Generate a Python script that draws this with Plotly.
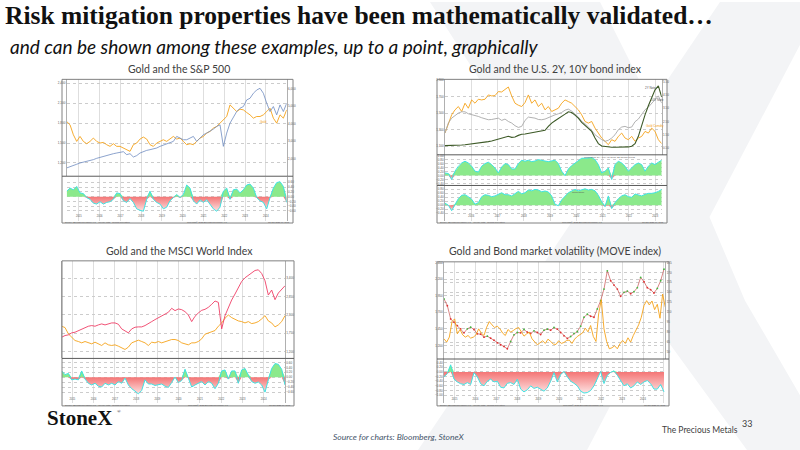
import numpy as np
import pandas as pd
import plotly.graph_objects as go

W, H = 800, 450

# ---------------- chart 1: gold and the S&P 500 ----------------
c1_start, c1_end = "2014-06-01", "2025-01-01"
c1_gold = [1825, 1775, 1625, 1525, 1600, 1525, 1490, 1525, 1575, 1525,
           1500, 1510, 1475, 1450, 1490, 1450, 1450, 1425, 1400, 1375,
           1475, 1500, 1560, 1590, 1560, 1475, 1450, 1500, 1525, 1550,
           1525, 1560, 1600, 1560, 1575, 1525, 1475, 1490, 1475, 1525,
           1575, 1600, 1650, 1675, 1725, 1750, 1800, 1850, 1900, 2075,
           2025, 1975, 2010, 2000, 1960, 1925, 1875, 1900, 1900, 1925,
           1975, 2025, 1875, 1800, 1925, 1875, 2000]
c1_spx = [1475, 1530, 1610, 1685, 1760, 1800, 1855, 1910, 1950, 2025,
          2085, 2140, 2195, 2235, 2290, 2330, 2370, 2405, 2235, 2290,
          2100, 2180, 2330, 2425, 2480, 2520, 2560, 2615, 2710, 2785,
          2860, 2940, 2995, 3280, 3185, 3090, 3090, 3185, 3280, 2995,
          3185, 3375, 3470, 3565, 3700, 3850, 3945, 2710, 3470, 4040,
          4420, 4705, 4895, 4990, 5370, 5465, 5750, 5940, 6035, 5750,
          5180, 4705, 4990, 4515, 5085, 4705, 5180]
c1_corr = [0.23, 0.36, 0.29, 0.43, 0.16, 0.13, -0.04, -0.11, -0.27, -0.31,
           -0.21, -0.31, -0.24, -0.21, -0.11, 0.16, 0.13, -0.17, -0.24, -0.08,
           -0.24, -0.51, -0.57, -0.61, -0.11, 0.23, -0.11, -0.24, -0.31, -0.51,
           -0.44, -0.17, -0.04, 0.09, -0.04, 0.09, 0.49, 0.36, -0.17, -0.31,
           -0.13, -0.24, -0.13, -0.31, -0.51, -0.61, -0.44, 0.23, 0.36, -0.11,
           0.29, 0.32, 0.16, 0.29, 0.49, 0.53, 0.36, -0.04, -0.17, -0.24,
           -0.51, -0.04, 0.36, 0.59, 0.63, 0.43, -0.24]

# ---------------- chart 2: gold and the U.S. 2Y, 10Y ----------------
c2_start, c2_end = "2015-01-01", "2023-04-01"
c2_gold = [1260, 1380, 1480, 1540, 1580, 1520, 1620, 1560, 1660, 1620,
           1668, 1660, 1668, 1720, 1708, 1712, 1760, 1756, 1788, 1816,
           1708, 1620, 1596, 1580, 1628, 1720, 1620, 1660, 1580, 1620,
           1540, 1580, 1520, 1540, 1560, 1620, 1660, 1640, 1620, 1580,
           1540, 1480, 1400, 1380, 1400, 1320, 1260, 1200, 1160, 1120,
           1180, 1160, 1220, 1260, 1200, 1180, 1220, 1160, 1200, 1220,
           1280, 1260, 1320, 1280, 1180, 1132]
c2_us2y = [0.68, 0.68, 0.68, 0.70, 0.73, 0.73, 0.75, 0.78, 0.80, 0.83,
           0.85, 0.88, 0.93, 0.98, 1.03, 1.10, 1.15, 1.23, 1.30, 1.38,
           1.30, 1.33, 1.45, 1.53, 1.55, 1.60, 1.65, 1.70, 1.73, 1.78,
           1.83, 2.13, 2.38, 2.55, 2.70, 2.88, 3.05, 3.23, 3.18, 2.98,
           2.75, 2.43, 2.18, 2.00, 1.75, 1.25, 0.83, 0.65, 0.60, 0.58,
           0.55, 0.55, 0.55, 0.55, 0.58, 0.58, 0.63, 0.83, 1.38, 2.25,
           3.00, 3.68, 4.25, 4.88, 5.18, 4.33]
c2_us10y = [1.63, 2.38, 2.75, 2.93, 3.13, 3.23, 3.23, 3.08, 3.03, 2.95,
            2.88, 2.78, 2.70, 2.63, 2.65, 2.68, 2.75, 2.58, 2.68, 2.50,
            2.38, 2.18, 2.05, 2.13, 2.58, 2.83, 2.80, 2.75, 2.65, 2.63,
            2.68, 2.80, 2.88, 3.00, 3.08, 3.18, 3.35, 3.43, 3.28, 3.08,
            2.83, 2.50, 2.33, 2.08, 1.83, 1.50, 1.28, 1.13, 1.00, 1.08,
            1.25, 1.50, 1.88, 2.08, 2.13, 2.03, 2.08, 2.48, 2.68, 3.00,
            3.38, 3.58, 3.88, 4.18, 4.43, 3.88]
c2_corr_2y = [0.13, 0.10, -0.20, 0.22, 0.47, 0.63, 0.72, 0.63, 0.47, 0.22,
              0.17, 0.47, 0.60, 0.67, 0.55, 0.38, 0.13, 0.43, 0.60, 0.55,
              0.33, 0.33, 0.60, 0.77, 0.72, 0.77, 0.70, 0.73, 0.80, 0.75,
              0.73, 0.70, 0.72, 0.77, 0.60, 0.22, 0.00, 0.33, 0.50, 0.63,
              0.77, 0.87, 0.87, 0.90, 0.90, 0.80, 0.55, 0.13, 0.22, 0.38,
              -0.20, 0.55, 0.72, 0.63, 0.47, 0.22, 0.38, 0.55, 0.63, 0.55,
              0.22, 0.47, 0.63, 0.55, 0.67, 0.77]
c2_corr_10y = [0.10, 0.00, -0.28, 0.05, 0.33, 0.50, 0.53, 0.43, 0.30, 0.05,
               0.13, 0.43, 0.53, 0.50, 0.43, 0.47, 0.53, 0.63, 0.53, 0.53,
               0.47, 0.58, 0.70, 0.58, 0.63, 0.77, 0.73, 0.80, 0.77, 0.68,
               0.72, 0.67, 0.47, 0.05, -0.03, 0.27, 0.47, 0.63, 0.72, 0.80,
               0.73, 0.80, 0.83, 0.77, 0.80, 0.73, 0.50, 0.17, -0.07, 0.47,
               -0.17, 0.13, 0.33, 0.47, 0.53, 0.43, 0.40, 0.57, 0.53, 0.47,
               0.55, 0.60, 0.60, 0.63, 0.70, 0.80]

# ---------------- chart 3: gold and the MSCI World ----------------
c3_start, c3_end = "2014-07-01", "2025-01-01"
c3_msci = [1630, 1680, 1700, 1760, 1780, 1830, 1880, 1920, 1960, 1980,
           1960, 2000, 2030, 2000, 2030, 2060, 2060, 2020, 1880, 1820,
           1760, 1880, 1930, 1940, 1940, 1980, 2030, 2100, 2160, 2210,
           2260, 2310, 2380, 2500, 2430, 2480, 2460, 2400, 2300, 2100,
           2260, 2360, 2440, 2470, 2530, 2620, 2720, 2680, 1880, 2280,
           2530, 2750, 2930, 3130, 3310, 3420, 3500, 3560, 3640, 3660,
           3550, 3330, 2900, 3050, 2760, 2960, 3060, 3180]
c3_gold = [1480, 1460, 1365, 1315, 1265, 1250, 1230, 1250, 1230, 1215,
           1240, 1215, 1190, 1230, 1200, 1190, 1200, 1180, 1150, 1130,
           1165, 1230, 1250, 1270, 1250, 1230, 1190, 1240, 1230, 1250,
           1230, 1250, 1265, 1280, 1280, 1265, 1230, 1210, 1200, 1230,
           1230, 1250, 1290, 1360, 1380, 1390, 1415, 1480, 1530, 1600,
           1650, 1610, 1580, 1560, 1550, 1530, 1550, 1520, 1530, 1550,
           1590, 1640, 1560, 1530, 1470, 1500, 1550, 1640]
c3_corr = [0.26, 0.11, 0.16, -0.10, -0.07, -0.10, 0.26, -0.07, -0.24, -0.31,
           -0.24, -0.36, -0.39, -0.24, -0.31, -0.24, -0.31, -0.17, -0.24, -0.03,
           -0.31, -0.46, -0.56, -0.67, -0.53, -0.10, -0.27, -0.27, -0.33, -0.31,
           -0.27, -0.36, -0.41, -0.21, 0.01, -0.21, -0.13, 0.33, -0.03, -0.39,
           -0.31, -0.24, -0.17, -0.31, -0.17, -0.24, -0.46, -0.24, 0.26, 0.30,
           -0.07, 0.26, 0.26, -0.24, 0.30, 0.36, 0.11, -0.17, -0.24, -0.19,
           -0.31, -0.60, -0.10, 0.36, 0.56, 0.53, 0.33, -0.31]

# ---------------- chart 4: gold and the MOVE index ----------------
c4_start, c4_end, c4_move_end = "2014-07-01", "2025-01-01", "2025-01-24"
c4_gold = [1900, 1800, 1600, 1550, 1500, 1450, 1390, 1450, 1475, 1440,
           1375, 1370, 1325, 1340, 1310, 1280, 1240, 1210, 1185, 1150,
           1260, 1360, 1395, 1390, 1440, 1400, 1380, 1420, 1395, 1365,
           1430, 1445, 1430, 1470, 1445, 1395, 1345, 1305, 1335, 1380,
           1410, 1490, 1625, 1670, 1640, 1625, 1750, 1875, 2050, 2325,
           2175, 2110, 2050, 1940, 2000, 2020, 1980, 2010, 2070, 2225,
           2160, 2070, 2040, 1990, 2060, 2175, 2350]
c4_move = [70, 65, 72.5, 96, 100, 77.5, 84, 76, 72.5, 75,
           71, 72.5, 76, 85, 78.5, 75, 87.5, 96, 91, 87,
           89, 85, 78.5, 75, 84, 80, 82.5, 85.5, 87, 81,
           74, 77.5, 80, 70, 66, 61, 64, 67, 63, 69.5,
           66, 62, 61.5, 67, 63, 64.5, 67.5, 68, 63, 69.5,
           73.5, 77, 79, 86, 80.5, 90, 73.5, 66, 107.5, 129,
           85, 66, 55, 56.5, 59.5, 55, 62.5, 67.5, 63, 71.5,
           65, 75, 82, 91, 102.5, 120, 127.5, 121, 127, 114,
           122, 101, 137.5, 117.5]
c4_corr = [-0.21, -0.07, 0.31, -0.31, -0.43, -0.51, -0.54, -0.46, -0.54, -0.03,
           -0.21, -0.51, -0.60, -0.40, -0.31, -0.43, -0.40, -0.66, -0.69, -0.49,
           -0.46, -0.54, -0.31, -0.74, -0.86, -0.77, -0.60, -0.71, -0.66, -0.74,
           -0.83, -0.69, -0.40, -0.03, -0.43, -0.11, 0.02, -0.21, -0.40, -0.49,
           -0.60, -0.83, -0.91, -0.89, -0.80, -0.60, -0.26, 0.02, -0.50, -0.14,
           -0.02, 0.05, -0.14, -0.37, -0.60, -0.51, -0.69, -0.60, -0.43, -0.54,
           -0.43, -0.37, -0.51, -0.74, -0.74, -0.54, -0.86]

ORANGE = "#f5a31a"
SPX_BLUE = "#6f8cc0"
MSCI_RED = "#ef3f66"
GREEN_2Y = "#3d5a27"
GREY_10Y = "#a9a9a9"
POS_FILL = "#8be98b"
CORR_LINE = "#3fe3e3"
TICK = dict(size=3, color="#555555", family="Arial")


def dates(start, end, vals):
    return pd.date_range(start, end, periods=len(vals))


layout = dict(width=W, height=H, margin=dict(l=0, r=0, t=0, b=0),
              paper_bgcolor="white", plot_bgcolor="rgba(0,0,0,0)",
              showlegend=False, hovermode=False)


def set_x(n, x0, x1, rng, anchor, years, labels):
    ax = dict(domain=[x0 / W, x1 / W], range=rng, anchor=anchor, type="date",
              tickmode="array", tickvals=[f"{y}-01-01" for y in years],
              ticktext=[str(y) for y in years], showticklabels=labels,
              tickfont=dict(size=2.6, color="#555555", family="Arial"),
              ticklabelposition="inside", ticks="", showgrid=True,
              gridcolor="#dedede", gridwidth=0.5, zeroline=False,
              showline=False, fixedrange=True)
    layout["xaxis" if n == 1 else f"xaxis{n}"] = ax


def set_y(n, top, bot, rng, anchor, side, tickvals, fmt=None, overlay=None,
          grid=True, labels=True, dash="dot"):
    ax = dict(domain=[1 - bot / H, 1 - top / H], range=rng, anchor=anchor,
              side=side, tickmode="array", tickvals=tickvals,
              showticklabels=labels, tickfont=TICK, ticks="",
              showgrid=grid, gridcolor="#cccccc", gridwidth=0.6, griddash=dash,
              zeroline=False, showline=True, linecolor="#b0b0b0",
              linewidth=0.5, fixedrange=True)
    if fmt:
        ax["tickformat"] = fmt
    if overlay:
        ax["overlaying"] = overlay
    layout["yaxis" if n == 1 else f"yaxis{n}"] = ax


traces = []


def line(x, y, xa, ya, color, width=0.8):
    traces.append(go.Scatter(x=x, y=y, xaxis=xa, yaxis=ya, mode="lines",
                             line=dict(color=color, width=width)))


def corr_panel(x, vals, xa, ya):
    v = np.asarray(vals, dtype=float)
    traces.append(go.Scatter(x=x, y=np.maximum(v, 0), xaxis=xa, yaxis=ya,
                             mode="lines", line=dict(width=0, color=POS_FILL),
                             fill="tozeroy", fillcolor=POS_FILL))
    traces.append(go.Scatter(x=x, y=np.minimum(v, 0), xaxis=xa, yaxis=ya,
                             mode="lines", line=dict(width=0, color="#f47c7c"),
                             fill="tozeroy",
                             fillgradient=dict(type="vertical",
                                               colorscale=[[0, "#fde2e2"], [1, "#f47575"]])))
    line(x, v, xa, ya, CORR_LINE, 1.0)


corr_ticks = [-0.6, -0.4, -0.2, 0, 0.2, 0.4, 0.6]

# chart 1
d1 = dates(c1_start, c1_end, c1_gold)
set_x(1, 66.7, 286.7, [c1_start, c1_end], "y", range(2015, 2026), False)
set_x(2, 66.7, 286.7, [c1_start, c1_end], "y3", range(2015, 2026), True)
set_y(1, 77.7, 175, [1000, 2460], "x", "left", [1200, 1500, 1800, 2100, 2400], ",d")
set_y(2, 77.7, 175, [1000, 6548], "x", "right", [2000, 3000, 4000, 5000, 6000], ",d",
      overlay="y", grid=False)
set_y(3, 175.7, 219.5, [-1.0, 0.83], "x2", "right", corr_ticks, ".2f")
line(d1, c1_spx, "x", "y2", SPX_BLUE, 0.8)
line(d1, c1_gold, "x", "y", ORANGE, 0.9)
corr_panel(d1, c1_corr, "x2", "y3")

# chart 2
d2 = dates(c2_start, c2_end, c2_gold)
set_x(3, 445, 661.7, [c2_start, c2_end], "y4", range(2016, 2024), False)
set_x(4, 445, 661.7, [c2_start, c2_end], "y6", range(2016, 2024), False)
set_x(5, 445, 661.7, [c2_start, c2_end], "y7", range(2016, 2024), True)
set_y(4, 77.7, 153.3, [1000, 1908], "x3", "left", [1100, 1300, 1500, 1700, 1900], ",d")
set_y(5, 77.7, 153.3, [0, 5.675], "x3", "right", [0.5, 1.5, 2.5, 3.5, 4.5, 5.5], ".2f",
      overlay="y4", grid=False)
set_y(6, 154, 184.3, [-0.5, 1.017], "x4", "left", [-0.4, -0.2, 0, 0.2, 0.4, 0.6, 0.8, 1.0], ".2f")
set_y(7, 184.3, 219.5, [-0.78, 1.0], "x5", "left", [-0.6, -0.4, -0.2, 0, 0.2, 0.4, 0.6, 0.8], ".2f")
line(d2, c2_gold, "x3", "y4", ORANGE, 0.9)
line(d2, c2_us10y, "x3", "y5", GREY_10Y, 0.9)
line(d2, c2_us2y, "x3", "y5", GREEN_2Y, 1.1)
corr_panel(d2, c2_corr_2y, "x4", "y6")
corr_panel(d2, c2_corr_10y, "x5", "y7")

# chart 3
d3 = dates(c3_start, c3_end, c3_msci)
set_x(6, 61.7, 285, [c3_start, c3_end], "y8", range(2015, 2026), False)
set_x(7, 61.7, 285, [c3_start, c3_end], "y10", range(2015, 2026), True)
set_y(8, 260, 357.7, [1000, 2465], "x6", "left", [1200, 1500, 1800, 2100],
      grid=False, labels=False)
set_y(9, 260, 357.7, [1000, 3930], "x6", "right", [1200, 1750, 2300, 2850, 3400], ",d",
      overlay="y8")
set_y(10, 358.3, 403, [-1.05, 0.757], "x7", "right", corr_ticks, ".2f")
line(d3, c3_gold, "x6", "y8", ORANGE, 0.9)
line(d3, c3_msci, "x6", "y9", MSCI_RED, 0.9)
corr_panel(d3, c3_corr, "x7", "y10")

# chart 4
d4 = dates(c4_start, c4_end, c4_gold)
d4m = dates(c4_start, c4_move_end, c4_move)
set_x(8, 444, 665.3, [c4_start, c4_move_end], "y11", range(2015, 2026), False)
set_x(9, 444, 665.3, [c4_start, c4_move_end], "y13", range(2015, 2026), True)
set_y(11, 261, 358.3, [1000, 2460], "x8", "left", [1200, 1450, 1700, 1950, 2200, 2450], ",d")
set_y(12, 261, 358.3, [40, 186], "x8", "right", [50, 65, 80, 95, 110, 125, 140, 155, 170, 185],
      ",d", overlay="y11", grid=True)
set_y(13, 359, 403, [-1.35, 0.543], "x9", "left", [-1.2, -1.0, -0.8, -0.6, -0.4, -0.2, 0, 0.2, 0.4], ".2f")
line(d4m, c4_move, "x8", "y12", ORANGE, 0.9)
g4 = np.asarray(c4_gold, dtype=float)
up = np.diff(g4, prepend=g4[0]) >= 0
traces.append(go.Scatter(x=d4, y=g4, xaxis="x8", yaxis="y11", mode="lines+markers",
                         line=dict(color="#c85050", width=0.7),
                         marker=dict(size=1.8, color=np.where(up, "#3fb83f", "#e03030"))))
corr_panel(d4, c4_corr, "x9", "y13")

fig = go.Figure(data=traces)
fig.update_layout(**layout)


def px_path(points):
    return "M " + " L ".join(f"{x / W:.4f},{1 - y / H:.4f}" for x, y in points) + " Z"


shapes = []
# watermark X
for pts in ([(430, 0), (600, 0), (640, 80), (690, 170), (745, 300), (800, 395), (800, 450),
             (747, 450), (660, 330), (580, 220), (500, 110)],
            [(720, 0), (800, 0), (800, 43), (587, 450), (418, 450)]):
    shapes.append(dict(type="path", xref="paper", yref="paper", path=px_path(pts),
                       fillcolor="#f3f4f6", line=dict(width=0), layer="below"))

frames = [(62, 77.7, 293, 222, [175]), (437, 77.7, 667, 222, [153.5, 184.3]),
          (62, 260, 294, 405.7, [358]), (437, 261, 669, 405.7, [358.6])]
for x0, y0, x1, y1, divs in frames:
    shapes.append(dict(type="rect", xref="paper", yref="paper", x0=x0 / W, x1=x1 / W,
                       y0=1 - y1 / H, y1=1 - y0 / H, fillcolor="white",
                       line=dict(width=0), layer="below"))
    shapes.append(dict(type="rect", xref="paper", yref="paper", x0=x0 / W, x1=x1 / W,
                       y0=1 - y1 / H, y1=1 - y0 / H, line=dict(color="#808080", width=1),
                       layer="above"))
    for yd in divs:
        shapes.append(dict(type="line", xref="paper", yref="paper", x0=x0 / W, x1=x1 / W,
                           y0=1 - yd / H, y1=1 - yd / H, line=dict(color="#5a5a5a", width=1),
                           layer="above"))
fig.update_layout(shapes=shapes)


def note(text, x, y, size, color="#404040", family="Lato", xanchor="center", **kw):
    fig.add_annotation(text=text, x=x / W, y=1 - y / H, xref="paper", yref="paper",
                       showarrow=False, xanchor=xanchor, yanchor="middle",
                       font=dict(size=size, color=color, family=family), **kw)


note("<b>Risk mitigation properties have been mathematically validated…</b>", 3, 14, 25.5,
     color="#111111", family="Liberation Serif", xanchor="left")
note("<i>and can be shown among these examples, up to a point, graphically</i>", 8, 45, 19,
     color="#111111", family="Lato", xanchor="left")

note("Gold and the S&P 500", 179, 67, 10.5)
note("Gold and the U.S. 2Y, 10Y bond index", 555, 67, 10.5)
note("Gold and the MSCI World Index", 179, 250, 10.5)
note("Gold and Bond market volatility (MOVE index)", 555, 250, 10.5)

# tiny in-chart labels
note("Gold", 263, 121, 3, color=ORANGE, family="Arial")
note("2Y Note", 650, 86, 3, color="#555555", family="Arial")
note("10Y Note", 657, 98, 3, color="#555555", family="Arial")
note("Gold Comdty", 655, 125, 3, color=ORANGE, family="Arial")
note("Correlation 2Y / 10Y vs Gold, 52 weeks rolling", 610, 156, 2.5, color="#555555", family="Arial")
note("Correlation", 578, 191, 2.5, color="#555555", family="Arial")

for x0, x1, y in [(62, 293, 220.8), (437, 667, 220.8), (62, 294, 404.4), (437, 669, 404.4)]:
    note("Source: Bloomberg Finance L.P. · Weekly data · Rolling correlation", x0 + 1, y, 2.2,
         color="#555555", family="Arial", xanchor="left")
    note("Copyright© 2025 Bloomberg Finance L.P.", (x0 + x1) / 2 + 30, y, 2.2,
         color="#555555", family="Arial")
    note("13-Jan-2025 09:42:11", x1 - 1, y, 2.2, color="#555555", family="Arial",
         xanchor="right")

# footer
note("<b>StoneX</b>", 45, 418, 21, color="#111111", family="Liberation Serif", xanchor="left")
note("®", 119, 411, 5, color="#111111", family="Liberation Serif")
note("<i>Source for charts: Bloomberg, StoneX</i>", 399, 437, 8.5, color="#44546a")
note("The Precious Metals", 700, 430, 8.5, color="#404040")
note("33", 747, 423, 9, color="#404040")

fig.write_html("out.html", config={"displayModeBar": False},
               post_script="document.body.style.margin='0px';")
